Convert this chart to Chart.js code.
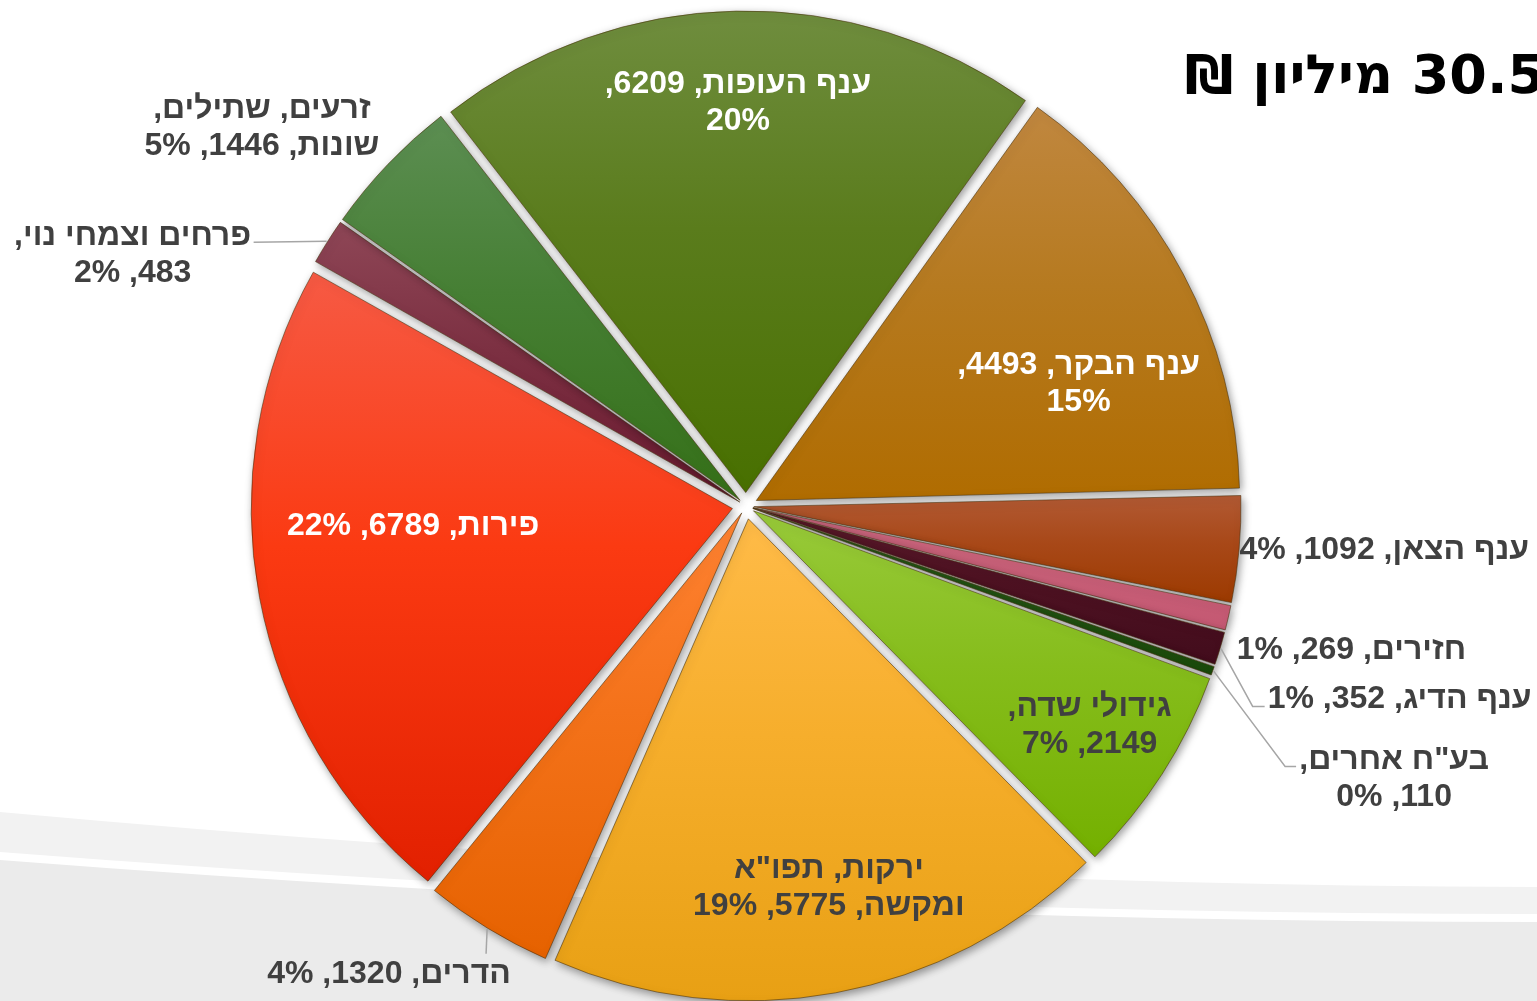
<!DOCTYPE html>
<html lang="he">
<head>
<meta charset="utf-8">
<title>30.5 מיליון ₪</title>
<script src="https://cdn.jsdelivr.net/npm/chart.js@4.4.1/dist/chart.umd.min.js"></script>
<style>
  html, body { margin: 0; padding: 0; background: #fff; overflow: hidden; }
  #wrap { position: relative; width: 1537px; height: 1001px; }
</style>
</head>
<body>
<div id="wrap"><canvas id="chart" width="1537" height="1001"></canvas></div>
<script>
// values in thousands of ₪, clockwise from the top
const categories = ['ענף העופות', 'ענף הבקר', 'ענף הצאן', 'חזירים', 'ענף הדיג', 'בע"ח אחרים',
                    'גידולי שדה', 'ירקות, תפו"א ומקשה', 'הדרים', 'פירות', 'פרחים וצמחי נוי', 'זרעים, שתילים, שונות'];
const values = [6209, 4493, 1092, 269, 352, 110, 2149, 5775, 1320, 6789, 483, 1446];
const percents = [20, 15, 4, 1, 1, 0, 7, 19, 4, 22, 2, 5];
const title = '30.5 מיליון ₪';

// slice gradients, top -> middle -> bottom
const topColors = ['#6f8d3e', '#c0873f', '#b25a34', '#cc6880', '#5a1a2a', '#2a5a1a',
                   '#98ca3a', '#ffbb48', '#ff8232', '#f65a44', '#8e4656', '#5c8e52'];
const midColors = ['#5a7c1c', '#b67a20', '#a84818', '#c86078', '#4e1222', '#225212',
                   '#86bd1c', '#f6ae2c', '#f4721a', '#fb3a12', '#7c3042', '#467f34'];
const bottomColors = ['#487000', '#b06c00', '#9c3a00', '#c45872', '#420c1c', '#1a4a0a',
                      '#74b000', '#e8a014', '#e66200', '#e22000', '#6a1a30', '#357018'];
const textColors = ['#fff', '#fff', '#404040', '#404040', '#404040', '#404040',
                    '#404040', '#404040', '#404040', '#fff', '#404040', '#404040'];

// label placement: angle shift (deg), radius factor, words on first line, leader points relative to text
const labelLayout = [
  { dA: 0, f: 0.842, brk: 3 },
  { dA: 7.5, f: 0.738, brk: 3 },
  { dA: -1.2, f: 1.33, brk: 0 },
  { dA: 0.2, f: 1.293, brk: 0 },
  { dA: -0.4, f: 1.416, brk: 0, leader: [[-147, 9], [-135, 9]] },
  { dA: 3.2, f: 1.46, brk: 2, leader: [[-109, -10], [-98, -10]] },
  { dA: -0.4, f: 0.846, brk: 2 },
  { dA: -1.9, f: 0.807, brk: 2 },
  { dA: 6, f: 1.22, brk: 0, leader: [[97, -18]] },
  { dA: 7.6, f: 0.693, brk: 0 },
  { dA: -9.8, f: 1.38, brk: 3, leader: [[121, -10]] },
  { dA: -5.5, f: 1.28, brk: 2 }
];

const ROTATION = -37.8;
const RADIUS = 481;
const SHIFT = 14;
const total = values.reduce((a, b) => a + b, 0);

function sliceAngles(i) {
  let a = (ROTATION - 90) * Math.PI / 180;
  for (let j = 0; j < i; j++) a += values[j] / total * Math.PI * 2;
  return [a, a + values[i] / total * Math.PI * 2];
}

// keep the outer edge of thin slices at the same distance as wide ones
function sliceOffset(ctx) {
  const circ = values[ctx.dataIndex] / total * Math.PI * 2;
  const fix = 1 - Math.sin(Math.min(Math.PI, circ));
  return SHIFT * 4 / (1 + fix);
}

function sliceFill(ctx) {
  const chart = ctx.chart;
  const area = chart.chartArea;
  const i = ctx.dataIndex;
  if (!area) return bottomColors[i];
  const cy = (area.top + area.bottom) / 2;
  const [a0, a1] = sliceAngles(i);
  const ys = [cy, cy + Math.sin(a0) * RADIUS, cy + Math.sin(a1) * RADIUS];
  [-Math.PI / 2, Math.PI / 2].forEach(t => {
    for (let k = -2; k <= 2; k++) {
      const th = t + k * Math.PI * 2;
      if (th >= a0 && th <= a1) ys.push(cy + Math.sin(th) * RADIUS);
    }
  });
  const y0 = Math.min(...ys), y1 = Math.max(...ys);
  const g = chart.ctx.createLinearGradient(0, y0, 0, y1 + 1);
  g.addColorStop(0, topColors[i]);
  g.addColorStop(0.45, midColors[i]);
  g.addColorStop(1, bottomColors[i]);
  return g;
}

const decor = {
  id: 'decor',
  beforeDraw(chart) {
    const c = chart.ctx;
    const w = chart.width, h = chart.height;
    c.save();
    c.fillStyle = '#f2f2f2';
    c.beginPath();
    c.moveTo(0, 812);
    c.quadraticCurveTo(800, 885, w, 887);
    c.lineTo(w, h); c.lineTo(0, h); c.closePath(); c.fill();
    c.fillStyle = '#ffffff';
    c.beginPath();
    c.moveTo(0, 852);
    c.quadraticCurveTo(800, 914, w, 914);
    c.lineTo(w, h); c.lineTo(0, h); c.closePath(); c.fill();
    c.fillStyle = '#ebebeb';
    c.beginPath();
    c.moveTo(0, 860);
    c.quadraticCurveTo(800, 922, w, 922);
    c.lineTo(w, h); c.lineTo(0, h); c.closePath(); c.fill();
    c.restore();
  },
  beforeDatasetsDraw(chart) {
    const c = chart.ctx;
    c.save();
    c.shadowColor = 'rgba(0,0,0,0.4)';
    c.shadowBlur = 8;
    c.shadowOffsetX = 2;
    c.shadowOffsetY = 3;
  },
  afterDatasetsDraw(chart) {
    const c = chart.ctx;
    c.restore();
    const meta = chart.getDatasetMeta(0);
    c.save();
    c.direction = 'rtl';
    c.textAlign = 'center';
    c.textBaseline = 'middle';
    c.font = 'bold 32px "Liberation Sans", Arial, sans-serif';
    meta.data.forEach((arc, i) => {
      const p = arc.getProps(['x', 'y', 'startAngle', 'endAngle', 'outerRadius'], true);
      const L = labelLayout[i];
      const mid = (p.startAngle + p.endAngle) / 2;
      const a = mid + L.dA * Math.PI / 180;
      // arc.x/y is the unshifted centre
      const tx = p.x + Math.cos(a) * p.outerRadius * L.f;
      const ty = p.y + Math.sin(a) * p.outerRadius * L.f;
      if (L.leader) {
        const r0 = p.outerRadius + SHIFT + 1;
        c.strokeStyle = '#a6a6a6';
        c.lineWidth = 1.5;
        c.beginPath();
        c.moveTo(p.x + Math.cos(mid) * r0, p.y + Math.sin(mid) * r0);
        L.leader.forEach(pt => c.lineTo(tx + pt[0], ty + pt[1]));
        c.stroke();
      }
      const words = `${categories[i]}, ${values[i]}, ${percents[i]}%`.split(' ');
      const lines = L.brk ? [words.slice(0, L.brk).join(' '), words.slice(L.brk).join(' ')] : [words.join(' ')];
      c.fillStyle = textColors[i];
      const lh = 37;
      lines.forEach((ln, k) => {
        c.fillText(ln, tx, ty + 2 + (k - (lines.length - 1) / 2) * lh);
      });
    });
    c.fillStyle = '#000';
    c.font = 'bold 54px "DejaVu Sans", sans-serif';
    c.textAlign = 'right';
    c.direction = 'rtl';
    c.textBaseline = 'alphabetic';
    c.fillText(title, 1545, 93);
    c.restore();
  }
};

new Chart(document.getElementById('chart'), {
  type: 'pie',
  data: {
    labels: categories,
    datasets: [{
      data: values,
      backgroundColor: sliceFill,
      borderColor: 'rgba(70,45,10,0.55)',
      borderWidth: 1,
      offset: sliceOffset,
      hoverOffset: sliceOffset,
      radius: RADIUS
    }]
  },
  options: {
    responsive: false,
    animation: false,
    rotation: ROTATION,
    radius: RADIUS,
    events: [],
    layout: { padding: { top: 11, bottom: 0, left: 256, right: 301 } },
    plugins: {
      legend: { display: false },
      tooltip: { enabled: false }
    }
  },
  plugins: [decor]
});
</script>
</body>
</html>
